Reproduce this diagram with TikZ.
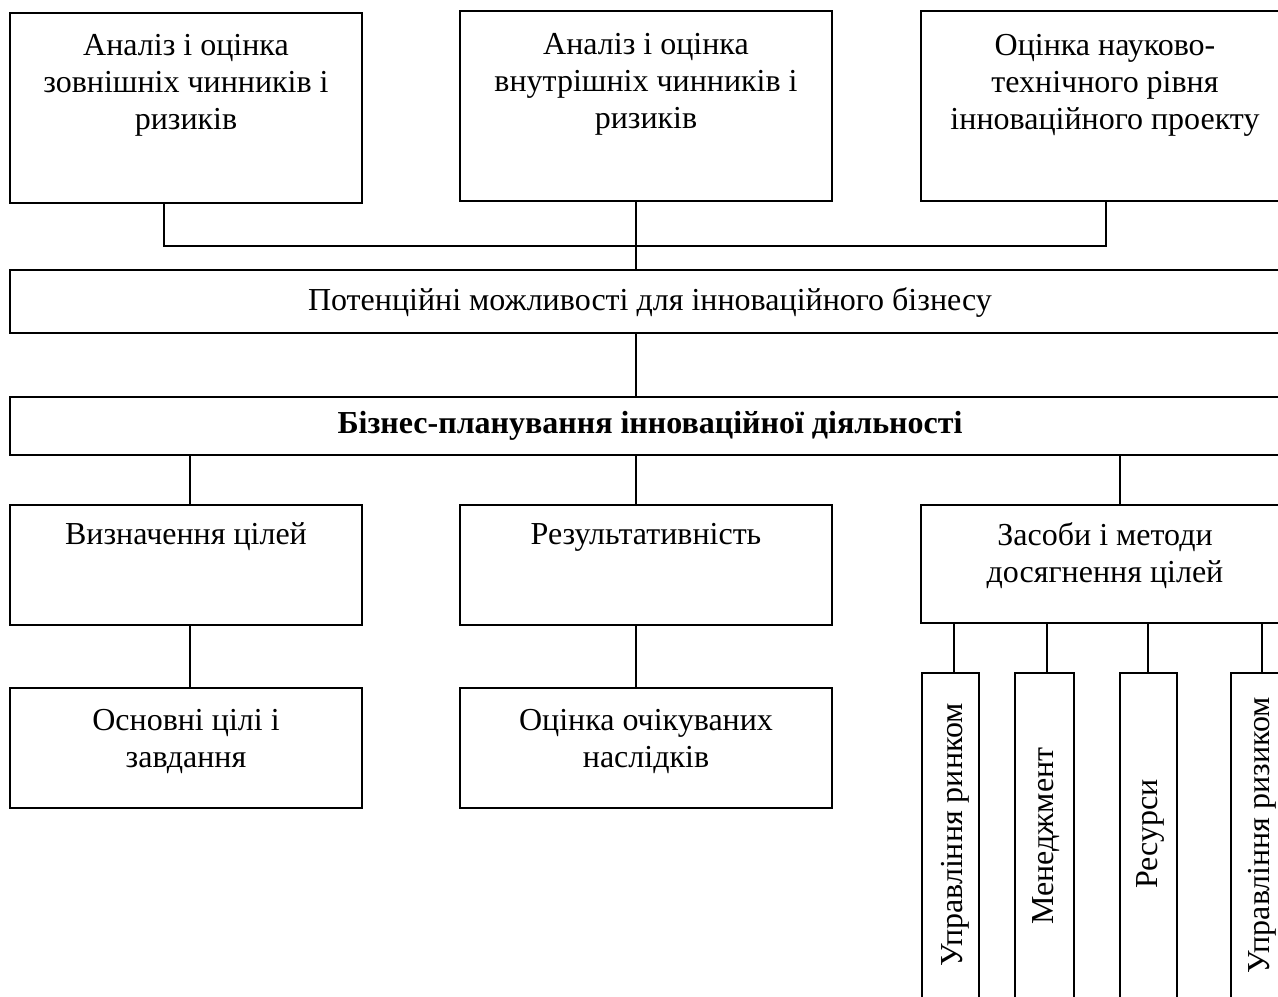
\documentclass[tikz,border=0pt]{standalone}
\usepackage{fontspec}
\setmainfont{Liberation Serif}
\usetikzlibrary{calc}
\newcommand\pxbox[5]{\node[box, minimum width={(#4-#2)*0.75pt}, minimum height={(#5-#3)*0.75pt}] (#1) at ({(#2+#4)/2},{(#3+#5)/2}) {};}
\begin{document}
\begin{tikzpicture}[x=0.75pt,y=-0.75pt,
  box/.style={draw, line width=1.3pt, rectangle, inner sep=0pt},
  conn/.style={line width=1.3pt},
  txt/.style={align=center, inner sep=0pt, font=\fontsize{24}{27.75}\selectfont}]
\path[use as bounding box] (0,0) rectangle (1278,996);
\clip (0,0) rectangle (1278,996);
% boxes
\pxbox{b1}{10}{13}{362}{203}
\pxbox{b2}{460}{11}{832}{201}
\pxbox{b3}{921}{11}{1292}{201}
\pxbox{p}{10}{270}{1300}{333}
\pxbox{bp}{10}{397}{1300}{455}
\pxbox{v1}{10}{505}{362}{625}
\pxbox{v2}{460}{505}{832}{625}
\pxbox{v3}{921}{505}{1292}{623}
\pxbox{o1}{10}{688}{362}{808}
\pxbox{o2}{460}{688}{832}{808}
\pxbox{r1}{922}{673}{979}{1010}
\pxbox{r2}{1015}{673}{1074}{1010}
\pxbox{r3}{1120}{673}{1177}{1010}
\pxbox{r4}{1231}{673}{1292}{1010}
% texts
\node[txt, anchor=north] (t1) at (186,34) {Аналіз і оцінка\\зовнішніх чинників і\\ризиків};
\node[txt, anchor=north] (t2) at (646,33) {Аналіз і оцінка\\внутрішніх чинників і\\ризиків};
\node[txt, anchor=north] (t3) at (1105,34) {Оцінка науково-\\технічного рівня\\інноваційного проекту};
\node[txt, anchor=base] (tp) at (650,310) {Потенційні можливості для інноваційного бізнесу};
\node[txt, anchor=base] (tbp) at (650,433) {\textbf{Бізнес-планування інноваційної діяльності}};
\node[txt, anchor=base] (tv1) at (186,544) {Визначення цілей};
\node[txt, anchor=base] (tv2) at (646,544) {Результативність};
\node[txt, anchor=north] (tv3) at (1105,522) {Засоби і методи\\досягнення цілей};
\node[txt, anchor=north] (to1) at (186,709) {Основні цілі і\\завдання};
\node[txt, anchor=north] (to2) at (646,709) {Оцінка очікуваних\\наслідків};
\node[txt, rotate=90] (tr1) at (955,835) {Управління ринком};
\node[txt, rotate=90] (tr2) at (1046,836) {Менеджмент};
\node[txt, rotate=90] (tr3) at (1150,834) {Ресурси};
\node[txt, rotate=90] (tr4) at (1262,835) {Управління ризиком};
% connectors
\coordinate (k1) at (164,246);
\coordinate (k2) at (636,246);
\coordinate (k3) at (1106,246);
\coordinate (m1) at (190,0);
\coordinate (m3) at (1120,0);
\coordinate (n1) at (954,0);
\coordinate (n2) at (1047,0);
\coordinate (n3) at (1148,0);
\coordinate (n4) at (1262,0);
\draw[conn] (b1.south -| k1) -- (k1) -- (k3) -- (b3.south -| k3);
\draw[conn] (b2.south -| k2) -- (p.north -| k2);
\draw[conn] (p.south -| k2) -- (bp.north -| k2);
\draw[conn] (bp.south -| m1) -- (v1.north -| m1);
\draw[conn] (bp.south -| k2) -- (v2.north -| k2);
\draw[conn] (bp.south -| m3) -- (v3.north -| m3);
\draw[conn] (v1.south -| m1) -- (o1.north -| m1);
\draw[conn] (v2.south -| k2) -- (o2.north -| k2);
\draw[conn] (v3.south -| n1) -- (r1.north -| n1);
\draw[conn] (v3.south -| n2) -- (r2.north -| n2);
\draw[conn] (v3.south -| n3) -- (r3.north -| n3);
\draw[conn] (v3.south -| n4) -- (r4.north -| n4);
\end{tikzpicture}
\end{document}
